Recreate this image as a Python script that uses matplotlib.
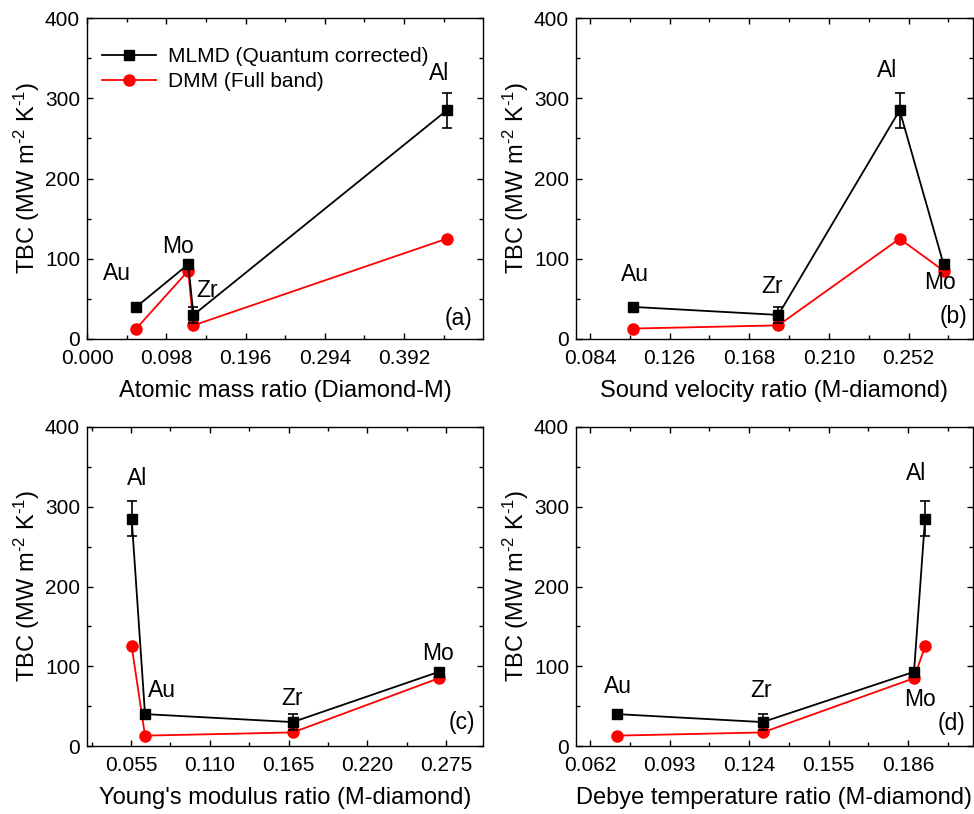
import numpy as np
import matplotlib as mpl
mpl.use('Agg')
import matplotlib.pyplot as plt
from matplotlib.lines import Line2D
from matplotlib.ticker import AutoMinorLocator, MultipleLocator, FormatStrFormatter

plt.rcParams['font.family'] = ['Liberation Sans', 'DejaVu Sans']
plt.rcParams['mathtext.fontset'] = 'custom'
plt.rcParams['mathtext.rm'] = 'Liberation Sans'
plt.rcParams['mathtext.default'] = 'regular'

# metals in each panel, TBC values (MW m^-2 K^-1)
metals = ['Au', 'Mo', 'Zr', 'Al']
tbc_mlmd = [40, 93, 30, 285]
tbc_mlmd_err = [5, 3, 10, 22]
tbc_dmm = [13, 85, 17, 125]

# descriptor ratios for each metal (same order as metals)
mass_ratio = [0.0609, 0.1251, 0.1316, 0.4448]
velocity_ratio = [0.1066, 0.2705, 0.1833, 0.2473]
young_ratio = [0.0648, 0.2700, 0.1680, 0.0555]
debye_ratio = [0.0724, 0.1883, 0.1293, 0.1926]

xlabels = ['Atomic mass ratio (Diamond-M)',
           'Sound velocity ratio (M-diamond)',
           "Young's modulus ratio (M-diamond)",
           'Debye temperature ratio (M-diamond)']
panel_tags = ['(a)', '(b)', '(c)', '(d)']

# x tick start / step / axis limits per panel
tick_start = [0.0, 0.084, 0.055, 0.062]
tick_step = [0.098, 0.042, 0.055, 0.031]
x_limits = [(0.0, 0.4895), (0.0766, 0.286), (0.0243, 0.3008), (0.0565, 0.2113)]

# text label positions (x, y) for each metal per panel
label_pos = [
    {'Au': (0.037, 82), 'Mo': (0.113, 115), 'Zr': (0.149, 61), 'Al': (0.435, 331)},
    {'Au': (0.1078, 80), 'Mo': (0.2684, 70), 'Zr': (0.1802, 66), 'Al': (0.2409, 335)},
    {'Au': (0.0767, 70), 'Mo': (0.2694, 116), 'Zr': (0.1674, 60), 'Al': (0.0592, 336)},
    {'Au': (0.0729, 74), 'Mo': (0.1907, 58), 'Zr': (0.1287, 69), 'Al': (0.1891, 342)},
]
tag_pos = [(0.937, 0.065), (0.95, 0.069), (0.947, 0.075), (0.947, 0.072)]

ratios = [mass_ratio, velocity_ratio, young_ratio, debye_ratio]

fig = plt.figure(figsize=(9.74, 8.14), dpi=100)
W, H = 974.0, 814.0
boxes = [(87, 18, 483, 339), (576, 18, 973, 339),
         (87, 427, 483, 746), (576, 427, 973, 746)]

fs_tick = 15
fs_label = 17
fs_note = 16.5
ylab = 'TBC (MW m$^{\u20102}$ K$^{\u20101}$)'

for i, (x0, y0, x1, y1) in enumerate(boxes):
    ax = fig.add_axes([x0 / W, 1 - y1 / H, (x1 - x0) / W, (y1 - y0) / H])
    xr = np.array(ratios[i])
    order = np.argsort(xr)
    xs = xr[order]
    y_m = np.array(tbc_mlmd)[order]
    e_m = np.array(tbc_mlmd_err)[order]
    y_d = np.array(tbc_dmm)[order]

    ax.plot(xs, y_d, color='red', lw=1.3, marker='o', ms=8, zorder=3)
    ax.errorbar(xs, y_m, yerr=e_m, color='black', lw=1.3, marker='s', ms=7,
                capsize=3.5, elinewidth=1.2, capthick=1.2, zorder=4)

    for m in metals:
        px, py = label_pos[i][m]
        ax.text(px, py, m, fontsize=fs_note, ha='center', va='center')
    ax.text(tag_pos[i][0], tag_pos[i][1], panel_tags[i], fontsize=fs_note,
            ha='center', va='center', transform=ax.transAxes)

    ax.set_xlim(*x_limits[i])
    ax.set_ylim(0, 400)
    ax.xaxis.set_major_locator(MultipleLocator(tick_step[i], offset=tick_start[i] % tick_step[i]))
    ax.xaxis.set_major_formatter(FormatStrFormatter('%.3f'))
    ax.xaxis.set_minor_locator(AutoMinorLocator(2))
    ax.yaxis.set_major_locator(MultipleLocator(100))
    ax.yaxis.set_minor_locator(MultipleLocator(50))
    ax.tick_params(which='both', direction='in', top=True, right=True,
                   labelsize=fs_tick)
    ax.tick_params(which='major', length=4.5, width=1.0, pad=5)
    ax.tick_params(axis='x', which='major', pad=7)
    ax.tick_params(which='minor', length=3, width=1.0)
    for s in ax.spines.values():
        s.set_linewidth(1.0)

    ax.set_xlabel(xlabels[i], fontsize=fs_label, labelpad=9)
    ax.set_ylabel(ylab, fontsize=fs_label, labelpad=2)

    if i == 0:
        handles = [Line2D([], [], color='black', lw=1.3, marker='s', ms=7),
                   Line2D([], [], color='red', lw=1.3, marker='o', ms=8)]
        ax.legend(handles, ['MLMD (Quantum corrected)', 'DMM (Full band)'],
                  loc='upper left', frameon=False, fontsize=fs_tick,
                  handlelength=2.6, handletextpad=0.6, borderaxespad=0.3,
                  labelspacing=0.3, bbox_to_anchor=(0.0, 0.955))

fig.savefig('out.png', dpi=100)
